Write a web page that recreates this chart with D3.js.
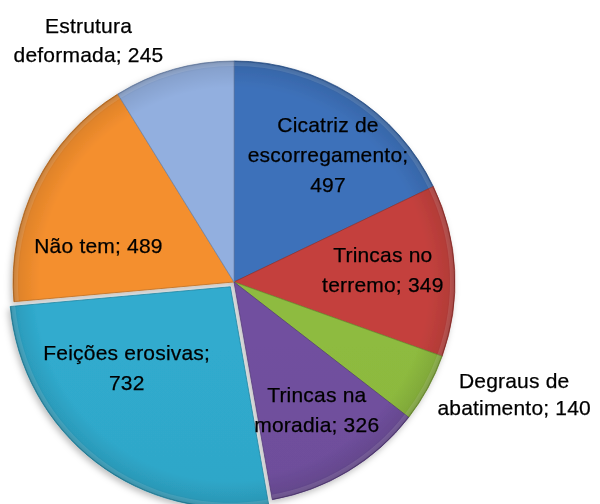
<!DOCTYPE html>
<html>
<head>
<meta charset="utf-8">
<script src="https://cdn.jsdelivr.net/npm/d3@7"></script>
<style>
  html, body { margin: 0; padding: 0; background: #fff; }
  svg { display: block; }
  text { font-family: "Liberation Sans", Arial, sans-serif; }
</style>
</head>
<body>
<div id="chart"></div>
<script>
// ---- data ----
const categories = [
  "Cicatriz de escorregamento",
  "Trincas no terremo",
  "Degraus de abatimento",
  "Trincas na moradia",
  "Feições erosivas",
  "Não tem",
  "Estrutura deformada"
];
const values = [497, 349, 140, 326, 732, 489, 245];
// label lines as shown on the chart (category; value)
const labelLines = [
  ["Cicatriz de", "escorregamento;", "497"],
  ["Trincas no", "terremo; 349"],
  ["Degraus de", "abatimento; 140"],
  ["Trincas na", "moradia; 326"],
  ["Feições erosivas;", "732"],
  ["Não tem; 489"],
  ["Estrutura", "deformada; 245"]
];
const colors = ["#3a6cb2", "#bc3e3a", "#88b33c", "#6c4d98", "#2ea4c5", "#ea892c", "#8ca8d6"];
const explode = [0, 0, 0, 0, 6, 0, 0];

// ---- layout (styling only) ----
const W = 600, H = 504;
const cx = 234, cy = 282, R = 221;
// label nudges relative to arc centroid at 0.62R: [dx, dy-of-first-baseline], line gap
const labelNudge = [[21, -34], [12, -13], [160, 40], [12, 3], [-24, -31], [-13, 32], [-108, -117]];
const lineGap = [30, 30, 27, 30, 30, 30, 29];

const svg = d3.select("#chart").append("svg").attr("width", W).attr("height", H);
const defs = svg.append("defs");

const f = defs.append("filter").attr("id", "shadow").attr("x", "-20%").attr("y", "-20%").attr("width", "140%").attr("height", "140%");
f.append("feDropShadow").attr("dx", -2).attr("dy", 3).attr("stdDeviation", 3).attr("flood-color", "#000").attr("flood-opacity", 0.25);

colors.forEach((c, i) => {
  const g = defs.append("linearGradient").attr("id", "g" + i)
    .attr("gradientUnits", "userSpaceOnUse")
    .attr("x1", 0).attr("y1", cy - R).attr("x2", 0).attr("y2", cy + R);
  g.append("stop").attr("offset", "0%").attr("stop-color", d3.color(c).brighter(0.12));
  g.append("stop").attr("offset", "50%").attr("stop-color", c);
  g.append("stop").attr("offset", "100%").attr("stop-color", d3.color(c).darker(0.3));
});
const rg = defs.append("radialGradient").attr("id", "rim")
  .attr("gradientUnits", "userSpaceOnUse").attr("cx", 0).attr("cy", 0).attr("r", R);
rg.append("stop").attr("offset", "88%").attr("stop-color", "#000").attr("stop-opacity", 0);
rg.append("stop").attr("offset", "97%").attr("stop-color", "#000").attr("stop-opacity", 0.08);
rg.append("stop").attr("offset", "100%").attr("stop-color", "#000").attr("stop-opacity", 0.22);

const pie = d3.pie().value(d => d).sort(null).startAngle(0).endAngle(2 * Math.PI);
const arcs = pie(values);
const arc = d3.arc().innerRadius(0).outerRadius(R);
const labelArc = d3.arc().innerRadius(R * 0.62).outerRadius(R * 0.62);

const gPie = svg.append("g").attr("transform", `translate(${cx},${cy})`).attr("filter", "url(#shadow)");

const slices = gPie.selectAll("g.slice").data(arcs).join("g")
  .attr("class", "slice")
  .attr("transform", (d, i) => {
    const a = (d.startAngle + d.endAngle) / 2;
    return `translate(${Math.sin(a) * explode[i]},${-Math.cos(a) * explode[i]})`;
  });

slices.append("path")
  .attr("d", arc)
  .attr("fill", (d, i) => `url(#g${i})`)
  .attr("stroke", (d, i) => d3.color(colors[i]).darker(0.6))
  .attr("stroke-width", 0.8);
slices.append("path")
  .attr("d", arc)
  .attr("fill", "url(#rim)");
// soft highlight on the outer edge
slices.append("path")
  .attr("d", d3.arc().innerRadius(R - 5).outerRadius(R - 1))
  .attr("fill", "#fff").attr("opacity", 0.12);

// labels
const gLab = svg.append("g").attr("transform", `translate(${cx},${cy})`);
arcs.forEach((d, i) => {
  const [x0, y0] = labelArc.centroid(d);
  const t = gLab.append("text")
    .attr("x", x0 + labelNudge[i][0])
    .attr("y", y0 + labelNudge[i][1])
    .attr("text-anchor", "middle")
    .attr("font-size", 21)
    .attr("letter-spacing", 0.2)
    .attr("fill", "#000")
    .attr("stroke", "#000").attr("stroke-width", 0.25);
  labelLines[i].forEach((ln, k) => {
    t.append("tspan").attr("x", x0 + labelNudge[i][0]).attr("dy", k === 0 ? 0 : lineGap[i]).text(ln);
  });
});
</script>
</body>
</html>
